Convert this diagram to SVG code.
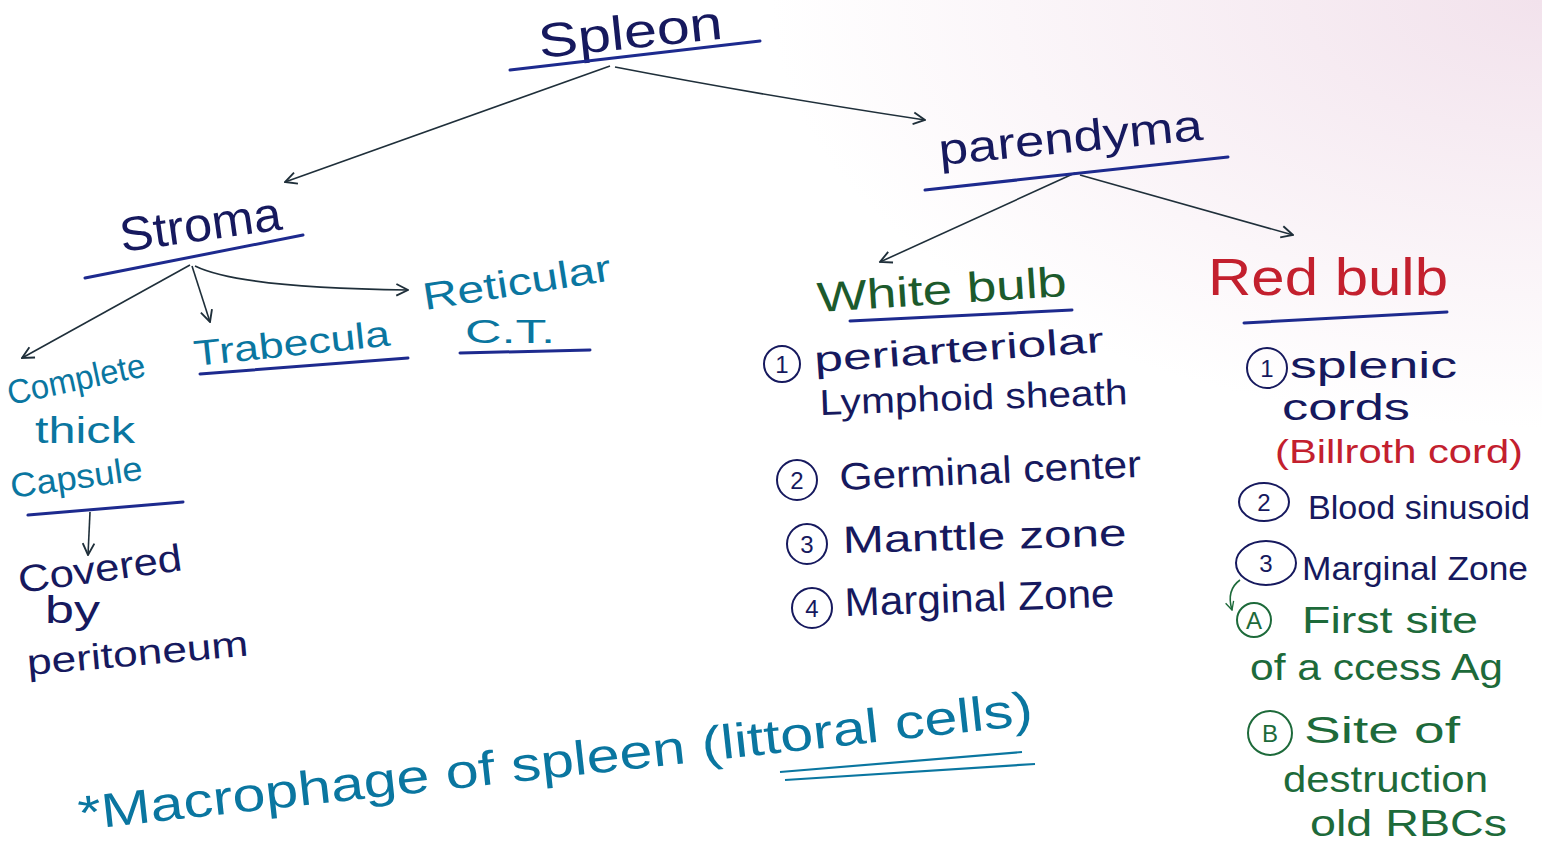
<svg xmlns="http://www.w3.org/2000/svg" width="1542" height="855" viewBox="0 0 1542 855">
<defs>
<radialGradient id="tint" cx="1" cy="0" r="0.5">
<stop offset="0" stop-color="#f2e2ec"/>
<stop offset="1" stop-color="#ffffff"/>
</radialGradient>
<marker id="ah" viewBox="0 0 12 12" refX="11" refY="6" markerWidth="14" markerHeight="14" markerUnits="userSpaceOnUse" orient="auto">
<path d="M1,1 L11,6 L1,11" fill="none" stroke="#1f2f3a" stroke-width="1.6"/>
</marker>
<marker id="ahg" viewBox="0 0 12 12" refX="11" refY="6" markerWidth="10" markerHeight="10" markerUnits="userSpaceOnUse" orient="auto">
<path d="M1,1 L11,6 L1,11" fill="none" stroke="#1d6a3a" stroke-width="1.6"/>
</marker>
<style>
text{font-family:"Liberation Sans","DejaVu Sans",sans-serif;}
.navy{fill:#16195e;}
.teal{fill:#0a76a0;}
.green{fill:#1c5a2c;}
.red{fill:#c3202e;}
.dgreen{fill:#1d6a3a;}
.num{font-size:24px;text-anchor:middle;}
.ul{stroke:#1d2a8e;stroke-width:3;fill:none;stroke-linecap:round;}
.con{stroke:#1f2f3a;stroke-width:1.6;fill:none;}
.circ{fill:none;stroke-width:2;}
</style>
</defs>
<rect width="1542" height="855" fill="url(#tint)"/>

<g id="connectors">
<path class="con" d="M610,66 L285,182" marker-end="url(#ah)"/>
<path class="con" d="M615,67 Q760,95 925,120" marker-end="url(#ah)"/>
<path class="con" d="M1075,173 L880,262" marker-end="url(#ah)"/>
<path class="con" d="M1080,175 L1293,235" marker-end="url(#ah)"/>
<path class="con" d="M190,265 L22,358" marker-end="url(#ah)"/>
<path class="con" d="M192,266 L210,322" marker-end="url(#ah)"/>
<path class="con" d="M195,266 Q240,288 408,290" marker-end="url(#ah)"/>
<path class="con" d="M90,512 L88,555" marker-end="url(#ah)"/>
<path d="M1240,580 Q1226,590 1232,610" fill="none" stroke="#1d6a3a" stroke-width="1.6" marker-end="url(#ahg)"/>
</g>

<g id="spleen">
<text x="540" y="58" font-size="48" class="navy" textLength="185" lengthAdjust="spacingAndGlyphs" transform="rotate(-6 540 58)">Spleon</text>
<path class="ul" d="M510,70 L760,41"/>
</g>

<g id="parenchyma">
<text x="940" y="165" font-size="44" class="navy" textLength="265" lengthAdjust="spacingAndGlyphs" transform="rotate(-5.5 940 165)">parendyma</text>
<path class="ul" d="M925,190 L1228,157"/>
</g>

<g id="stroma">
<text x="122" y="252" font-size="48" class="navy" textLength="163" lengthAdjust="spacingAndGlyphs" transform="rotate(-8 122 252)">Stroma</text>
<path class="ul" d="M85,278 L303,235"/>
</g>

<g id="capsule">
<text x="10" y="405" font-size="34" class="teal" textLength="140" lengthAdjust="spacingAndGlyphs" transform="rotate(-12 10 405)">Complete</text>
<text x="35" y="443" font-size="36" class="teal" textLength="100" lengthAdjust="spacingAndGlyphs">thick</text>
<text x="12" y="498" font-size="34" class="teal" textLength="133" lengthAdjust="spacingAndGlyphs" transform="rotate(-8 12 498)">Capsule</text>
<path class="ul" d="M28,515 L183,502"/>
</g>

<g id="covered">
<text x="20" y="593" font-size="38" class="navy" textLength="165" lengthAdjust="spacingAndGlyphs" transform="rotate(-8 20 593)">Covered</text>
<text x="45" y="623" font-size="38" class="navy" textLength="55" lengthAdjust="spacingAndGlyphs">by</text>
<text x="28" y="675" font-size="36" class="navy" textLength="222" lengthAdjust="spacingAndGlyphs" transform="rotate(-5 28 675)">peritoneum</text>
</g>

<g id="trabecula">
<text x="195" y="366" font-size="36" class="teal" textLength="197" lengthAdjust="spacingAndGlyphs" transform="rotate(-6 195 366)">Trabecula</text>
<path class="ul" d="M200,374 L408,358"/>
</g>

<g id="reticular">
<text x="425" y="310" font-size="38" class="teal" textLength="190" lengthAdjust="spacingAndGlyphs" transform="rotate(-9 425 310)">Reticular</text>
<text x="465" y="343" font-size="34" class="teal" textLength="90" lengthAdjust="spacingAndGlyphs">C.T.</text>
<path class="ul" d="M460,353 L590,350"/>
</g>

<g id="white-pulp">
<text x="818" y="312" font-size="42" class="green" textLength="250" lengthAdjust="spacingAndGlyphs" transform="rotate(-3.7 818 312)">White bulb</text>
<path class="ul" d="M850,321 L1072,310"/>
<circle class="circ" cx="782" cy="364" r="18" stroke="#16195e"/>
<text x="782" y="373" class="navy num">1</text>
<text x="815" y="372" font-size="36" class="navy" textLength="290" lengthAdjust="spacingAndGlyphs" transform="rotate(-4 815 372)">periarteriolar</text>
<text x="820" y="415" font-size="36" class="navy" textLength="308" lengthAdjust="spacingAndGlyphs" transform="rotate(-2 820 415)">Lymphoid sheath</text>
<circle class="circ" cx="797" cy="480" r="20" stroke="#16195e"/>
<text x="797" y="489" class="navy num">2</text>
<text x="840" y="490" font-size="38" class="navy" textLength="302" lengthAdjust="spacingAndGlyphs" transform="rotate(-2.5 840 490)">Germinal center</text>
<circle class="circ" cx="807" cy="544" r="20" stroke="#16195e"/>
<text x="807" y="553" class="navy num">3</text>
<text x="843" y="553" font-size="38" class="navy" textLength="284" lengthAdjust="spacingAndGlyphs" transform="rotate(-1.5 843 553)">Manttle zone</text>
<circle class="circ" cx="812" cy="608" r="20" stroke="#16195e"/>
<text x="812" y="617" class="navy num">4</text>
<text x="845" y="616" font-size="40" class="navy" textLength="270" lengthAdjust="spacingAndGlyphs" transform="rotate(-2 845 616)">Marginal Zone</text>
</g>

<g id="red-pulp">
<text x="1208" y="295" font-size="52" class="red" textLength="240" lengthAdjust="spacingAndGlyphs">Red bulb</text>
<path class="ul" d="M1244,323 L1447,312"/>
<circle class="circ" cx="1267" cy="368" r="20" stroke="#16195e"/>
<text x="1267" y="377" class="navy num">1</text>
<text x="1290" y="378" font-size="36" class="navy" textLength="167" lengthAdjust="spacingAndGlyphs">splenic</text>
<text x="1282" y="420" font-size="36" class="navy" textLength="128" lengthAdjust="spacingAndGlyphs">cords</text>
<text x="1275" y="463" font-size="34" class="red" textLength="248" lengthAdjust="spacingAndGlyphs">(Billroth cord)</text>
<ellipse class="circ" cx="1264" cy="502" rx="25" ry="19" stroke="#16195e"/>
<text x="1264" y="511" class="navy num">2</text>
<text x="1308" y="519" font-size="33" class="navy" textLength="222" lengthAdjust="spacingAndGlyphs">Blood sinusoid</text>
<ellipse class="circ" cx="1266" cy="563" rx="30" ry="22" stroke="#16195e"/>
<text x="1266" y="572" class="navy num">3</text>
<text x="1302" y="580" font-size="34" class="navy" textLength="226" lengthAdjust="spacingAndGlyphs">Marginal Zone</text>
<circle class="circ" cx="1254" cy="620" r="17" stroke="#1d6a3a"/>
<text x="1254" y="629" class="dgreen num">A</text>
<text x="1302" y="633" font-size="36" class="dgreen" textLength="176" lengthAdjust="spacingAndGlyphs">First site</text>
<text x="1250" y="680" font-size="36" class="dgreen" textLength="253" lengthAdjust="spacingAndGlyphs">of a ccess Ag</text>
<circle class="circ" cx="1270" cy="733" r="22" stroke="#1d6a3a"/>
<text x="1270" y="742" class="dgreen num">B</text>
<text x="1304" y="743" font-size="36" class="dgreen" textLength="156" lengthAdjust="spacingAndGlyphs">Site of</text>
<text x="1283" y="792" font-size="36" class="dgreen" textLength="205" lengthAdjust="spacingAndGlyphs">destruction</text>
<text x="1310" y="836" font-size="36" class="dgreen" textLength="197" lengthAdjust="spacingAndGlyphs">old RBCs</text>
</g>

<g id="macrophage">
<text x="80" y="830" font-size="48" class="teal" textLength="960" lengthAdjust="spacingAndGlyphs" transform="rotate(-6.3 80 830)">*Macrophage of spleen (littoral cells)</text>
<path d="M780,772 L1022,752" stroke="#0a76a0" stroke-width="2.2" fill="none"/>
<path d="M785,780 L1035,764" stroke="#0a76a0" stroke-width="2.2" fill="none"/>
</g>
</svg>
